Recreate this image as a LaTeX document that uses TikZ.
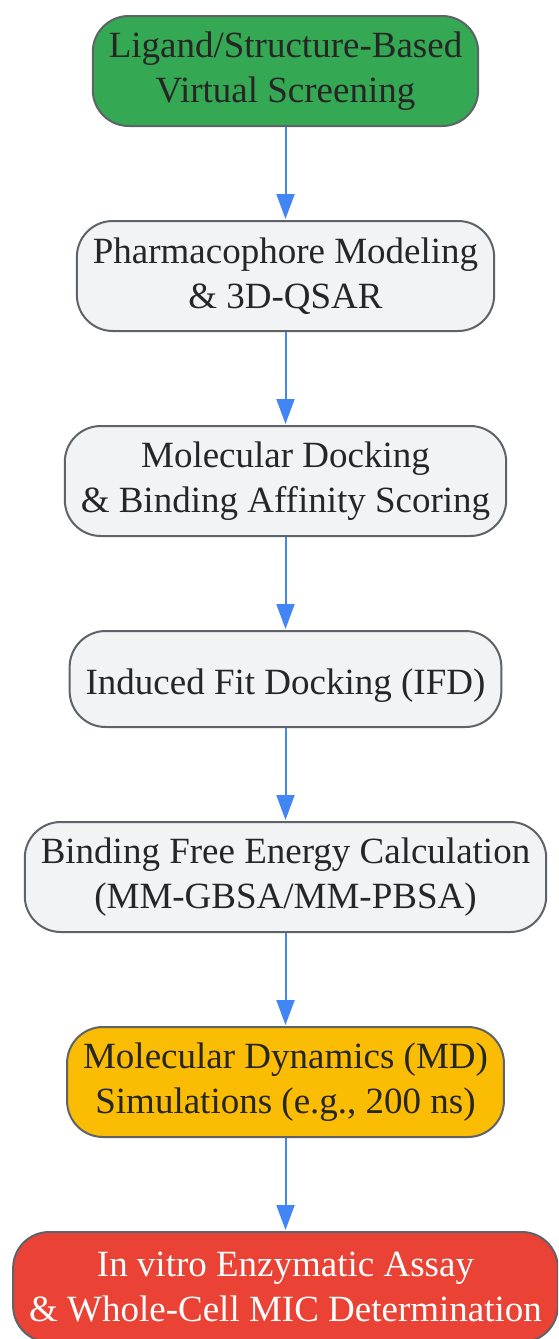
\documentclass[tikz,border=0pt]{standalone}
\usepackage{fontspec}
\setmainfont{Liberation Serif}
\usetikzlibrary{positioning,arrows.meta}

\definecolor{stepgreen}{HTML}{34A853}
\definecolor{stepgray}{HTML}{F1F3F5}
\definecolor{stepyellow}{HTML}{FBBC04}
\definecolor{stepred}{HTML}{EA4335}
\definecolor{stepline}{HTML}{5F6368}
\definecolor{arrowblue}{HTML}{4285F4}

\tikzset{
  stepbox/.style={draw=stepline, line width=2pt, rounded corners=36pt,
    fill=stepgray, text=black!85, align=center, inner xsep=16pt,
    minimum height=110pt, font=\fontsize{37}{45}\selectfont,
    execute at begin node={\rule{0pt}{38pt}}},
  flow/.style={draw=arrowblue, line width=2pt,
    -{Triangle[length=25pt,width=18pt]}, shorten >=1pt}
}

\begin{document}
\begin{tikzpicture}[node distance=93pt]
\useasboundingbox (0,0) rectangle (558pt,-1339pt);
\clip (0,0) rectangle (558pt,-1339pt);
\node (screen) [stepbox, fill=stepgreen, anchor=north] at (285.5pt,-15pt)
  {Ligand/Structure-Based\\Virtual Screening};
\node (pharm) [stepbox, below=of screen] {Pharmacophore Modeling\\\& 3D-QSAR};
\node (dock) [stepbox, below=of pharm] {Molecular Docking\\\& Binding Affinity Scoring};
\node (ifd) [stepbox, minimum height=96pt, below=of dock] {Induced Fit Docking (IFD)};
\node (energy) [stepbox, below=of ifd] {Binding Free Energy Calculation\\(MM-GBSA/MM-PBSA)};
\node (md) [stepbox, fill=stepyellow, below=of energy] {Molecular Dynamics (MD)\\Simulations (e.g., 200 ns)};
\node (assay) [stepbox, fill=stepred, text=white, below=of md]
  {In vitro Enzymatic Assay\\\& Whole-Cell MIC Determination};
% arrows between steps
\draw[flow] (screen) -- (pharm);
\draw[flow] (pharm) -- (dock);
\draw[flow] (dock) -- (ifd);
\draw[flow] (ifd) -- (energy);
\draw[flow] (energy) -- (md);
\draw[flow] (md) -- (assay);
\end{tikzpicture}
\end{document}
